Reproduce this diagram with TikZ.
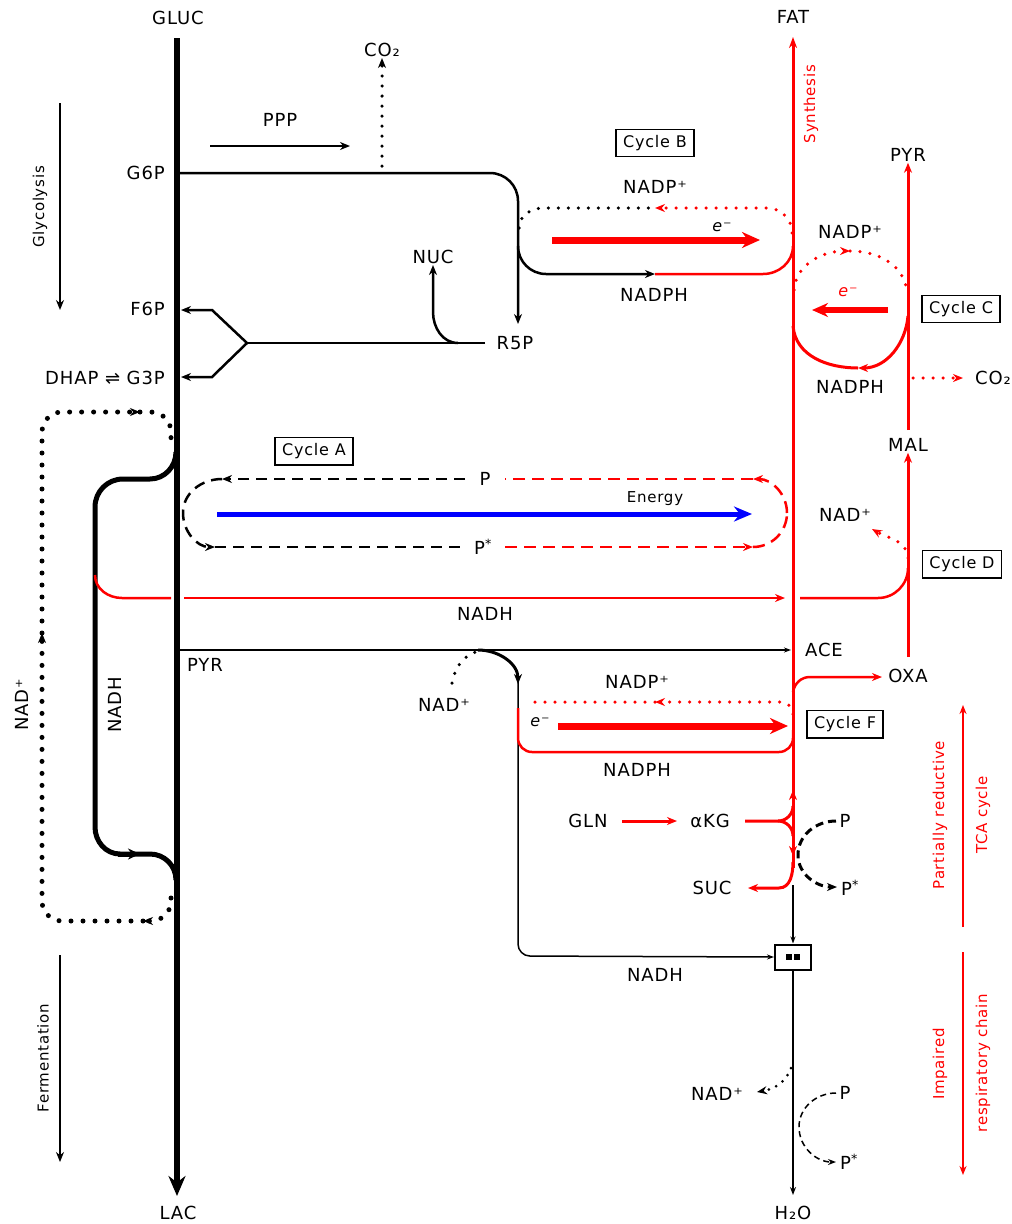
\documentclass[tikz,border=0pt]{standalone}
\usepackage{fontspec}
\setmainfont[LetterSpace=5]{DejaVu Sans}
\usetikzlibrary{arrows.meta}
\tikzset{
  lbl/.style={font=\fontsize{18}{21}\selectfont, inner sep=1pt},
  smalltxt/.style={font=\fontsize{15}{18}\selectfont, inner sep=1pt},
  etxt/.style={font=\fontsize{16}{19}\selectfont\itshape, inner sep=1pt},
  sidetxt/.style={font=\fontsize{15}{18}\selectfont, inner sep=1pt, red, rotate=90},
  rottxt/.style={font=\fontsize{15}{18}\selectfont, inner sep=1pt, rotate=90},
  cyclebox/.style={draw, line width=1.5pt, inner xsep=7pt, inner ysep=6pt, font=\fontsize{16}{19}\selectfont},
  mainln/.style={line width=6.5pt},
  blk/.style={line width=2.5pt},
  thinln/.style={line width=1.5pt},
  redln/.style={red, line width=3pt},
  redtwo/.style={red, line width=2.5pt},
  dotK/.style={line width=3.5pt, line cap=round, dash pattern=on 0pt off 10pt},
  dotR/.style={red, line width=3.5pt, line cap=round, dash pattern=on 0pt off 10pt},
  dotbig/.style={line width=5pt, line cap=round, dash pattern=on 0pt off 12pt},
  dashK/.style={line width=2.5pt, dash pattern=on 11pt off 7pt},
  dashR/.style={red, line width=2.5pt, dash pattern=on 12pt off 7pt},
  arr/.style={-{Stealth[length=10pt,width=8pt]}},
  arrbig/.style={-{Stealth[length=18pt,width=16pt]}},
}
\begin{document}
\begin{tikzpicture}[x=1pt,y=-1pt]
\useasboundingbox (0,0) rectangle (1012,1224);

% ---------- labels ----------
\node[lbl] (gluc) at (178,18) {GLUC};
\node[lbl] (lac) at (178,1213) {LAC};
\node[lbl, anchor=east] (g6p) at (166,173) {G6P};
\node[lbl, anchor=east] (f6p) at (166,309) {F6P};
\node[lbl, anchor=east] (g3p) at (166,378) {DHAP ⇌ G3P};
\node[lbl] (ppp) at (280,120) {PPP};
\node[lbl] (co2a) at (382,50) {CO₂};
\node[lbl] (nuc) at (433,257) {NUC};
\node[lbl] (r5p) at (515,343) {R5P};
\node[cyclebox] (cycB) at (655,143) {Cycle B};
\node[lbl] (nadpB) at (655,187) {NADP⁺};
\node[lbl] (nadphB) at (654,295) {NADPH};
\node[etxt] (eB) at (722,227) {e⁻};
\node[lbl] (fat) at (793,17) {FAT};
\node[sidetxt] (synth) at (811,104) {Synthesis};
\node[lbl] (pyrR) at (908,155) {PYR};
\node[lbl] (nadpC) at (850,232) {NADP⁺};
\node[etxt, red] (eC) at (848,292) {e⁻};
\node[cyclebox] (cycC) at (961,309) {Cycle C};
\node[lbl] (nadphC) at (850,387) {NADPH};
\node[lbl] (co2b) at (993,378) {CO₂};
\node[lbl] (mal) at (908,445) {MAL};
\node[cyclebox] (cycA) at (314,451) {Cycle A};
\node[lbl] (pA) at (485,479) {P};
\node[lbl] (psA) at (483,547) {P\textsuperscript{*}};
\node[smalltxt] (energy) at (655,499) {Energy};
\node[lbl] (nadD) at (845,515) {NAD⁺};
\node[cyclebox] (cycD) at (962,564) {Cycle D};
\node[lbl] (nadhR) at (485,614) {NADH};
\node[lbl] (pyrL) at (205,665) {PYR};
\node[lbl] (ace) at (824,650) {ACE};
\node[lbl] (oxa) at (908,676) {OXA};
\node[lbl] (nadF) at (444,705) {NAD⁺};
\node[lbl] (nadpF) at (637,682) {NADP⁺};
\node[etxt] (eF) at (540,722) {e⁻};
\node[cyclebox] (cycF) at (845,724) {Cycle F};
\node[lbl] (nadphF) at (637,770) {NADPH};
\node[lbl] (gln) at (588,821) {GLN};
\node[lbl] (akg) at (710,821) {αKG};
\node[lbl] (pT) at (845,821) {P};
\node[lbl] (suc) at (712,888) {SUC};
\node[lbl] (psT) at (850,888) {P\textsuperscript{*}};
\node[draw, line width=2pt, minimum width=36pt, minimum height=25pt, inner sep=0pt] (cplx) at (793,957) {\rule{6pt}{6pt}\hspace{2pt}\rule{6pt}{6pt}};
\node[lbl] (nadhB) at (655,975) {NADH};
\node[lbl] (nadR) at (717,1094) {NAD⁺};
\node[lbl] (pR) at (845,1093) {P};
\node[lbl] (psR) at (849,1162) {P\textsuperscript{*}};
\node[lbl] (h2o) at (793,1213) {H₂O};
\node[rottxt] (glyc) at (40,207) {Glycolysis};
\node[rottxt] (ferm) at (43,1058) {Fermentation};
\node[rottxt, font=\fontsize{18}{21}\selectfont] (nadL) at (22,705) {NAD⁺};
\node[rottxt, font=\fontsize{18}{21}\selectfont] (nadhL) at (115,705) {NADH};
\node[sidetxt] (partred) at (940,815) {Partially reductive};
\node[sidetxt] (tca) at (983,815) {TCA cycle};
\node[sidetxt] (impair) at (940,1064) {Impaired};
\node[sidetxt] (resp) at (983,1063) {respiratory chain};

% ---------- side arrows ----------
\draw[blk, arr] (60,103) -- (60,310);
\draw[blk, arr] (60,955) -- (60,1162);
\draw[red, line width=2pt, -{Stealth[length=9pt,width=7pt]}] (963,927) -- (963,705);
\draw[red, line width=2pt, -{Stealth[length=9pt,width=7pt]}] (963,952) -- (963,1175);

% ---------- PPP ----------
\draw[blk, arr] (210,146) -- (350,146);
\draw[dotK, arr] (382,166) -- (co2a.south);
\draw[blk, arr, rounded corners=28pt] (180,173) -- (518,173) -- (518,324);
\draw[blk] (485,343) -- (247,343);
\draw[blk, arr] (247,343) -- (212,310) -- (181,310);
\draw[blk, arr] (247,343) -- (212,377) -- (181,377);
\draw[blk, arr] (458,343) to[out=180,in=-90] (433,312) -- (nuc.south);

% ---------- Cycle B ----------
\draw[blk, arr] (518,246) to[out=-90,in=180] (546,274) -- (655,274);
\draw[redtwo] (655,274) -- (763,274) to[out=0,in=-90] (793,246);
\draw[dotK] (519,228) to[out=90,in=180] (543,208) -- (655,208);
\draw[dotR, arr] (792,233) to[out=90,in=0] (767,208) -- (655,208);
\draw[red, line width=7pt, arrbig] (552,240) -- (760,240);

% ---------- Cycle C ----------
\draw[dotR, arr] (794,290) to[out=85,in=180] (850,251);
\draw[dotR] (850,251) to[out=0,in=95] (907,292);
\draw[red, line width=3pt, arr] (908,316) to[out=-95,in=0] (858,368);
\draw[red, line width=3pt] (858,368) to[out=180,in=-85] (793,326);
\draw[red, line width=6pt, -{Stealth[length=16pt,width=14pt]}] (888,310) -- (812,310);

% ---------- right red vertical ----------
\draw[redln, arr] (908,430) -- (pyrR.south);
\draw[redln, arr] (908,657) -- (mal.south);
\draw[dotR, arr] (913,378) -- (963,378);

% ---------- Cycle A ----------
\draw[dashK, arr] (465,479) -- (222,479);
\draw[dashK, arr] (222,479) to[out=180,in=90] (183,513) to[out=-90,in=180] (215,547);
\draw[dashK] (215,547) -- (465,547);
\draw[dashR, arr] (787,513) to[out=90,in=0] (753,479);
\draw[dashR] (753,479) -- (505,479);
\draw[dashR, arr] (505,547) -- (753,547);
\draw[dashR] (753,547) to[out=0,in=-90] (787,513);
\draw[blue, line width=5pt, -{Stealth[length=18pt,width=15pt]}] (217,514) -- (752,514);

% ---------- NAD+ loop (left) ----------
\draw[dotbig, arr, rounded corners=20pt] (171,898) -- (171,921) -- (143,921);
\draw[dotbig, arr, rounded corners=20pt] (143,921) -- (42,921) -- (42,633);
\draw[dotbig, arr, rounded corners=20pt] (42,633) -- (42,412) -- (140,412);
\draw[dotbig, rounded corners=20pt] (140,412) -- (171,412) -- (171,440);

% ---------- NADH loop (left) ----------
\draw[line width=5pt] (176,452) to[out=-90,in=0] (150,479) -- (123,479) to[out=180,in=90] (95,507) -- (95,827) to[out=-90,in=180] (120,854) -- (150,854) to[out=0,in=90] (176,880);
\draw[line width=5pt, -{Stealth[length=12pt,width=11pt]}] (118,854) -- (140,854);

% ---------- red NADH ----------
\draw[redtwo] (95,575) to[out=-90,in=180] (122,598) -- (171,598);
\draw[redtwo, arr] (184,598) -- (785,598);
\draw[redtwo] (800,598) -- (878,598) to[out=0,in=-90] (908,568);
\draw[dotR, arr] (908,558) to[out=95,in=-30] (872,529);

% ---------- ACE / PYR ----------
\draw[thinln, -{Stealth[length=7pt,width=5pt]}] (180,650) -- (791,650);
\draw[dotK] (452,683) to[out=80,in=180] (484,651);
\draw[line width=3pt, arr] (478,650) to[out=0,in=90] (518,684);
\draw[thinln, rounded corners=12pt, -{Stealth[length=7pt,width=5pt]}] (518,680) -- (518,956) -- (cplx.west);

% ---------- Cycle F ----------
\draw[dotR, arr] (793,714) to[out=90,in=0] (780,702) -- (655,702);
\draw[dotR] (655,702) -- (525,702);
\draw[redtwo, rounded corners=14pt] (518,708) -- (518,752) -- (793,752) -- (793,730);
\draw[red, line width=7pt, arrbig] (558,726) -- (788,726);

% ---------- FAT line and TCA ----------
\draw[redln, -{Stealth[length=11pt,width=8pt]}] (793,868) -- (793,37);
\draw[redtwo, arr] (793,692) to[out=80,in=180] (810,677) -- (882,677);
\draw[redln, arr] (622,821) -- (677,821);
\draw[redln] (745,821) -- (778,821) to[out=0,in=-90] (793,806);
\draw[redln] (778,821) to[out=0,in=90] (793,836);
\draw[redln, arr] (793,802) -- (793,790);
\draw[redln, arr] (793,842) -- (793,856);
\draw[redln, arr] (793,862) to[out=-90,in=0] (779,888) -- (748,888);
\draw[line width=3pt, dash pattern=on 8pt off 5pt, arr] (836,821) to[out=180,in=90] (798,855) to[out=-90,in=180] (837,887);

% ---------- respiratory chain ----------
\draw[line width=1.8pt, -{Stealth[length=7pt,width=5pt]}] (793,885) -- (cplx.north);
\draw[line width=1.8pt, -{Stealth[length=8pt,width=6pt]}] (cplx.south) -- (793,1195);
\draw[line width=3pt, line cap=round, dash pattern=on 0pt off 8pt, arr] (791,1068) to[out=-110,in=10] (757,1092);
\draw[line width=1.5pt, dash pattern=on 6pt off 4pt, -{Stealth[length=8pt,width=6pt]}] (836,1093) to[out=180,in=90] (799,1127) to[out=-90,in=180] (836,1162);

% ---------- main line ----------
\draw[mainln, -{Stealth[length=20pt,width=17pt]}] (177,38) -- (177,1196);
\end{tikzpicture}
\end{document}
